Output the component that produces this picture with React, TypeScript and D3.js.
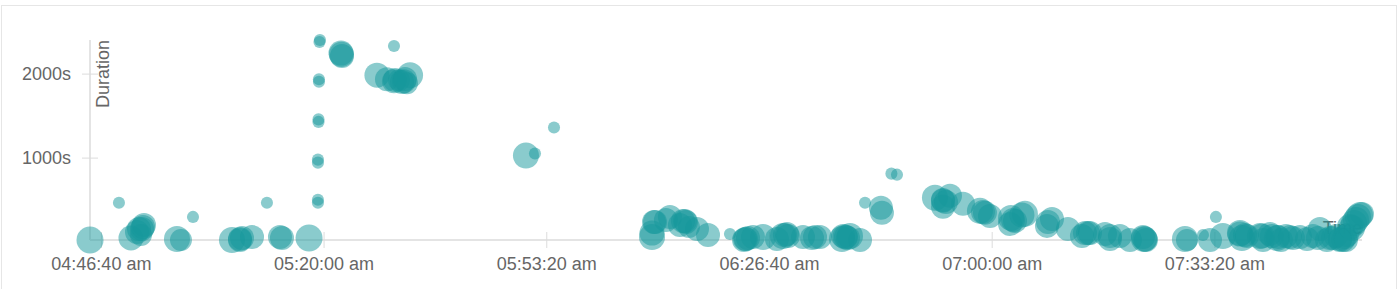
import React from "react";
import * as d3 from "d3";

// start time of each request, seconds after midnight
const startSec = [
  17098, 17358, 17466, 17520, 17565, 17583, 17556, 18023, 17879, 17915,
  18373, 18445, 18463, 18553, 18687, 18804, 18822, 19065, 19163, 19159,
  19154, 19154, 19150, 19150, 19145, 19145, 19145, 19145, 19352, 19361,
  19828, 19675, 19765, 19828, 19873, 19918, 19972, 19945, 21013, 21094,
  21265, 22145, 22163, 22270, 22396, 22441, 22477, 22549, 22648, 22845,
  22971, 22989, 23052, 23142, 23267, 23321, 23357, 23501, 23582, 23653,
  23851, 23887, 23923, 24013, 24058, 24201, 24210, 24295, 24345, 24686,
  24758, 24821, 24758, 24938, 25090, 25135, 25180, 25369, 25494, 25360,
  25405, 25692, 25737, 25880, 26006, 26060, 26213, 26258, 26347, 26437,
  26563, 26581, 26931, 26949, 27093, 27209, 27156, 27272, 27425, 27443,
  27470, 27605, 27632, 27694, 27757, 27793, 27838, 27901, 28027, 28081,
  28143, 28206, 28260, 28323, 28350, 28386, 28413, 28449, 28485, 28521,
  17538, 17574, 19356, 19837, 19900, 19927, 18445, 22172, 22306, 22450,
  22145, 22423, 22980, 23007, 23339, 23366, 23609, 23878, 23905, 23860,
  24758, 24785, 25117, 25387, 25467, 25701, 26033, 26078, 26258, 26572,
  26554, 27425, 27488, 27623, 27712, 27766, 27874, 27964, 28233, 28287,
  28368, 28431, 28467, 28503, 28377, 28323, 28125,
];

// duration in seconds
const durations = [
  25, 468, 49, 121, 157, 204, 85, 300, 37, 25,
  25, 25, 49, 61, 468, 61, 49, 49, 2406, 2382,
  1939, 1909, 1461, 1431, 982, 946, 504, 468, 2250, 2215,
  2334, 1987, 1939, 1915, 1927, 1915, 1987, 1892, 1030, 1054,
  1365, 61, 240, 264, 204, 252, 181, 157, 85, 97,
  25, 37, 61, 61, 37, 73, 97, 61, 49, 61,
  37, 61, 73, 25, 468, 408, 348, 815, 803, 528,
  492, 551, 420, 456, 372, 348, 312, 288, 336, 216,
  252, 193, 276, 157, 73, 109, 97, 37, 73, 25,
  37, 25, 37, 25, 85, 300, 25, 73, 109, 49,
  85, 73, 25, 97, 49, 25, 73, 49, 37, 73,
  157, 25, 49, 37, 25, 85, 181, 228, 300, 336,
  156, 180, 2235, 1929, 1905, 1941, 37, 239, 299, 239,
  108, 251, 37, 49, 85, 73, 61, 61, 49, 73,
  501, 477, 358, 263, 323, 239, 108, 108, 73, 37,
  61, 96, 73, 73, 73, 61, 61, 61, 49, 73,
  61, 168, 263, 323, 25, 25, 49,
];

// bubble weight
const sizes = [
  100, 20, 86, 79, 79, 79, 66, 20, 93, 66,
  93, 79, 79, 79, 20, 79, 79, 100, 20, 20,
  20, 20, 20, 20, 20, 20, 20, 20, 86, 79,
  20, 86, 79, 79, 66, 79, 93, 66, 93, 20,
  20, 93, 79, 79, 79, 79, 66, 79, 79, 20,
  79, 79, 79, 93, 79, 93, 79, 79, 79, 79,
  93, 79, 93, 79, 20, 79, 79, 20, 20, 93,
  79, 79, 79, 79, 93, 79, 79, 93, 93, 79,
  79, 79, 79, 79, 79, 79, 79, 79, 79, 79,
  93, 79, 93, 66, 20, 20, 79, 93, 93, 93,
  79, 93, 79, 79, 93, 79, 79, 79, 79, 79,
  79, 79, 79, 79, 79, 79, 93, 93, 93, 79,
  79, 79, 86, 79, 79, 79, 79, 79, 79, 79,
  86, 79, 79, 79, 79, 79, 79, 86, 79, 79,
  79, 79, 79, 79, 86, 79, 79, 79, 79, 86,
  79, 86, 79, 86, 79, 79, 79, 79, 79, 79,
  79, 93, 93, 93, 79, 79, 79,
];

const xTicks = [17200, 19200, 21200, 23200, 25200, 27200];
const yTicks = [1000, 2000];

const W = 1397;
const H = 289;
const left = 90;
const right = 1362;
const top = 40;
const bottom = 240;

const pad = (n: number) => String(n).padStart(2, "0");
const fmtTime = (s: number) => {
  const h = Math.floor(s / 3600);
  const m = Math.floor((s % 3600) / 60);
  const sec = Math.round(s % 60);
  const h12 = h % 12 === 0 ? 12 : h % 12;
  return `${pad(h12)}:${pad(m)}:${pad(sec)} ${h < 12 ? "am" : "pm"}`;
};

export default function App() {
  const x = d3
    .scaleLinear()
    .domain(d3.extent(startSec) as [number, number])
    .range([left, right]);
  const y = d3
    .scaleLinear()
    .domain(d3.extent(durations) as [number, number])
    .range([bottom, top]);
  const r = d3.scaleSqrt().domain([0, 100]).range([0, 13.5]);

  const font = '"Liberation Sans", Arial, Helvetica, sans-serif';
  const textColor = "#666";
  const axisColor = "#e4e4e4";
  const tickColor = "#dcdcdc";

  return (
    <svg
      width={W}
      height={H}
      style={{ position: "absolute", left: 0, top: 0, display: "block" }}
      fontFamily={font}
    >
      <rect x={1.5} y={5.5} width={1395} height={320} fill="#fff" stroke="#e6e6e6" />
      {/* y axis */}
      <line x1={left} x2={left} y1={top} y2={bottom} stroke={axisColor} strokeWidth={2} />
      {yTicks.map((t) => (
        <g key={t} transform={`translate(0,${y(t)})`}>
          <line x1={left - 8} x2={left + 8} stroke={tickColor} strokeWidth={1} />
          <text x={71} dy="0.3em" textAnchor="end" fontSize={18} fill={textColor}>
            {t}s
          </text>
        </g>
      ))}
      <text
        transform={`translate(${left},${top}) rotate(-90)`}
        y={6}
        dy="0.71em"
        textAnchor="end"
        fontSize={18}
        fill={textColor}
      >
        Duration
      </text>
      {/* x axis */}
      <line x1={left} x2={right} y1={bottom} y2={bottom} stroke={axisColor} strokeWidth={2} />
      {xTicks.map((t) => (
        <g key={t} transform={`translate(${x(t)},0)`}>
          <line y1={bottom - 8} y2={bottom + 8} stroke={tickColor} strokeWidth={1} />
          <text y={bottom + 30} textAnchor="middle" fontSize={18} fill={textColor}>
            {fmtTime(t)}
          </text>
        </g>
      ))}
      <text x={right} y={bottom - 6} textAnchor="end" fontSize={18} fill={textColor}>
        Time
      </text>
      {/* bubbles */}
      <g>
        {startSec.map((t, i) => (
          <circle
            key={i}
            cx={x(t)}
            cy={y(durations[i])}
            r={r(sizes[i])}
            fill="#15979b"
            fillOpacity={0.5}
          />
        ))}
      </g>
    </svg>
  );
}
